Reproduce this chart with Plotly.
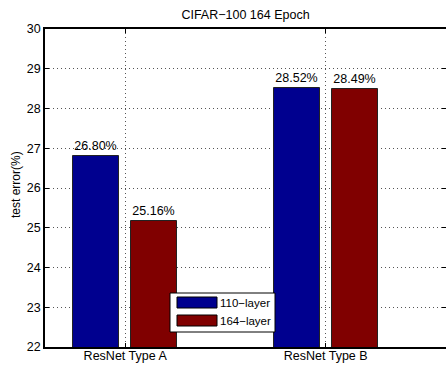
import plotly.graph_objects as go

categories = ["ResNet Type A", "ResNet Type B"]
series_names = ["110\u2212layer", "164\u2212layer"]
values_110 = [26.80, 28.52]
values_164 = [25.16, 28.49]
y_ticks = [22, 23, 24, 25, 26, 27, 28, 29, 30]
title_text = "CIFAR\u2212100 164 Epoch"
y_label = "test error(%)"

colors = ["#00008F", "#800000"]
FONT = "Liberation Sans, Arial, Helvetica, sans-serif"
FS = 12.5

fig = go.Figure()
for vals, name, col, off in [(values_110, series_names[0], colors[0], -0.26),
                              (values_164, series_names[1], colors[1], 0.03)]:
    fig.add_trace(go.Bar(
        x=categories, y=vals, name=name,
        marker=dict(color=col, line=dict(color="#222222", width=1)),
        width=0.23, offset=off,
        texttemplate="%{y:.2f}%", textposition="outside",
        textfont=dict(family=FONT, size=FS, color="black"),
        cliponaxis=False, showlegend=False,
    ))

L, T, R, B = 45, 29, 0, 18
W, H = 446, 365
pw, ph = W - L - R, H - T - B

def px(x):
    return (x - L) / pw

def py(y):
    return (H - B - y) / ph

# custom legend box (style only)
fig.add_shape(type="rect", xref="paper", yref="paper",
              x0=px(170), x1=px(275), y0=py(332), y1=py(293),
              line=dict(color="black", width=1), fillcolor="white", layer="above")
for i, (name, col) in enumerate(zip(series_names, colors)):
    top = 297 + i * 18
    fig.add_shape(type="rect", xref="paper", yref="paper",
                  x0=px(177), x1=px(217), y0=py(top + 11), y1=py(top),
                  line=dict(color="black", width=1), fillcolor=col, layer="above")
    fig.add_annotation(xref="paper", yref="paper", x=px(218), y=py(top + 5.5),
                       text=name, showarrow=False, xanchor="left", yanchor="middle",
                       font=dict(family=FONT, size=11.5, color="black"))

# y-axis label
fig.add_annotation(xref="paper", yref="paper", x=px(16), y=py(184),
                   text=y_label, textangle=-90, showarrow=False,
                   xanchor="center", yanchor="middle",
                   font=dict(family=FONT, size=12, color="black"))

fig.update_layout(
    width=W, height=H,
    margin=dict(l=L, r=R, t=T, b=B, pad=0, autoexpand=False),
    plot_bgcolor="white", paper_bgcolor="white",
    font=dict(family=FONT, size=FS, color="black"),
    title=dict(text=title_text, x=(L + pw / 2) / W, xanchor="center",
               y=1 - 15 / H, yanchor="middle",
               font=dict(family=FONT, size=FS, color="black")),
    bargap=0,
)
fig.update_xaxes(
    type="category", range=[-0.4, 1.6], automargin=False,
    showline=True, linecolor="black", linewidth=1.5, mirror="ticks",
    ticks="inside", ticklen=4, tickcolor="black",
    ticklabelstandoff=-4,
    showgrid=True, gridcolor="#555555", griddash="1px,3px", gridwidth=1,
    tickfont=dict(family=FONT, size=FS, color="black"),
)
fig.update_yaxes(
    range=[22, 30], tickvals=y_ticks, automargin=False,
    showline=True, linecolor="black", linewidth=1.5, mirror="ticks",
    ticks="inside", ticklen=4, tickcolor="black",
    showgrid=True, gridcolor="#555555", griddash="1px,3px", gridwidth=1,
    zeroline=False,
    tickfont=dict(family=FONT, size=FS, color="black"),
)

fig.write_html("out.html",
               config={"displayModeBar": False},
               post_script="document.body.style.margin='0';document.body.style.overflow='hidden';")
